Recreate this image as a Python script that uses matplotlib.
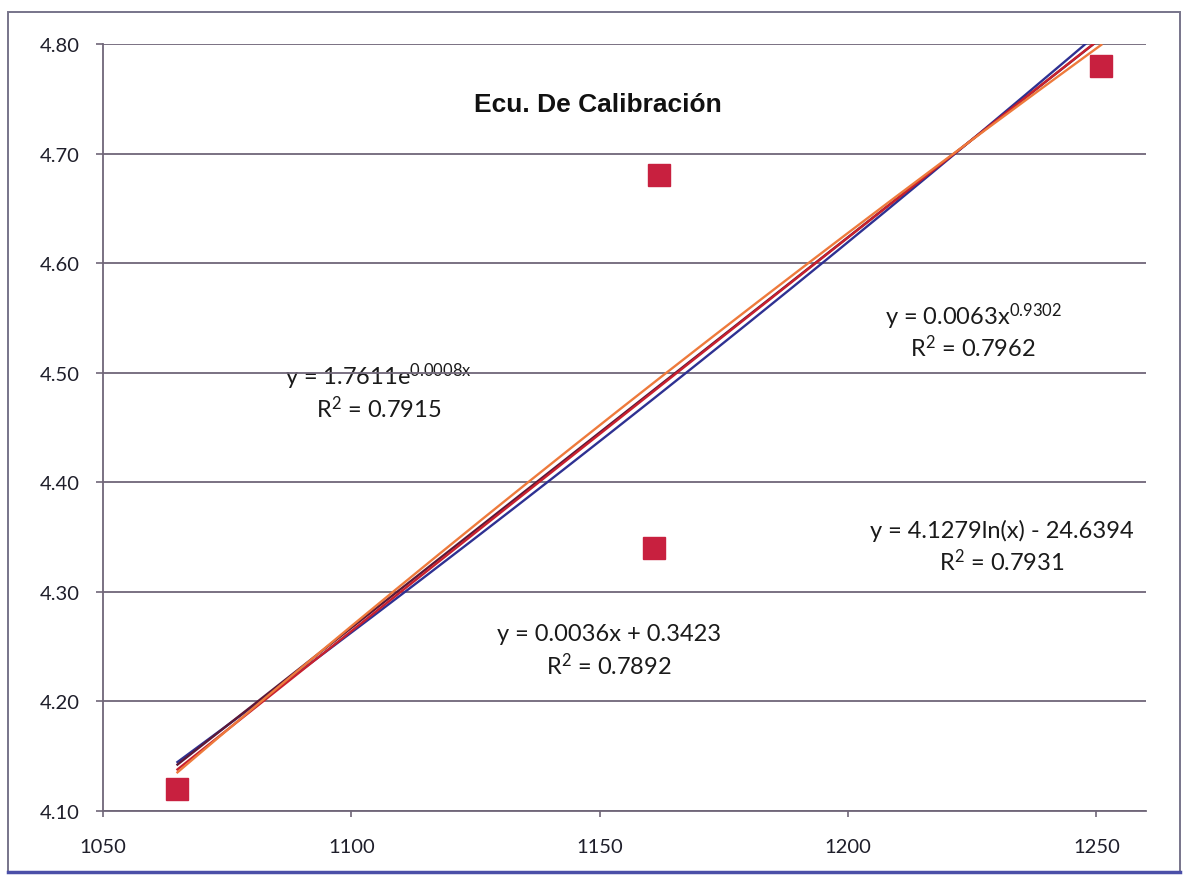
import numpy as np
import matplotlib
matplotlib.use("Agg")
import matplotlib.pyplot as plt
from matplotlib.patches import Rectangle
from matplotlib.lines import Line2D

# Calibration measurements
x_vals = [1065, 1162, 1161, 1251]
y_vals = [4.12, 4.68, 4.34, 4.78]

x_ticks = [1050, 1100, 1150, 1200, 1250]
y_ticks = [4.10, 4.20, 4.30, 4.40, 4.50, 4.60, 4.70, 4.80]

title = "Ecu. De Calibración"
eq_exp = r"y = 1.7611e$^{\mathrm{0.0008x}}$"
r2_exp = r"R$^{\mathrm{2}}$ = 0.7915"
eq_pow = r"y = 0.0063x$^{\mathrm{0.9302}}$"
r2_pow = r"R$^{\mathrm{2}}$ = 0.7962"
eq_log = "y = 4.1279ln(x) - 24.6394"
r2_log = r"R$^{\mathrm{2}}$ = 0.7931"
eq_lin = "y = 0.0036x + 0.3423"
r2_lin = r"R$^{\mathrm{2}}$ = 0.7892"

plt.rcParams["font.family"] = ["Lato", "DejaVu Sans"]
plt.rcParams["mathtext.fontset"] = "custom"
plt.rcParams["mathtext.rm"] = "Lato"
plt.rcParams["mathtext.it"] = "Lato:italic"
plt.rcParams["mathtext.bf"] = "Lato:bold"

x = np.array(x_vals, dtype=float)
y = np.array(y_vals, dtype=float)

# Least-squares trendlines
lin = np.polyfit(x, y, 1)
exp_k, exp_b = np.polyfit(x, np.log(y), 1)
pow_p, pow_b = np.polyfit(np.log(x), np.log(y), 1)
log_a, log_b = np.polyfit(np.log(x), y, 1)

xs = np.linspace(x.min(), x.max(), 400)
trend_exp = np.exp(exp_b) * np.exp(exp_k * xs)
trend_lin = np.polyval(lin, xs)
trend_pow = np.exp(pow_b) * xs ** pow_p
trend_log = log_a * np.log(xs) + log_b

fig = plt.figure(figsize=(11.86, 8.78), dpi=100)
ax = fig.add_axes([0.0868, 0.0757, 0.8795, 0.8730])

grid_c = "#6f6678"
for yt in y_ticks:
    ax.axhline(yt, color=grid_c, lw=1.3, zorder=1)

ax.plot(xs, trend_exp, color="#2e3192", lw=1.7, zorder=3)
ax.plot(xs, trend_lin, color="#5b1838", lw=1.7, zorder=3)
ax.plot(xs, trend_pow, color="#c8202e", lw=1.7, zorder=3)
ax.plot(xs, trend_log, color="#ee7a3c", lw=1.7, zorder=3)

ax.plot(x, y, linestyle="none", marker="s", markersize=15.5,
        markerfacecolor="#c8203f", markeredgecolor="#c8203f", zorder=4)

ax.set_xlim(1050, 1260)
ax.set_ylim(4.10, 4.80)
ax.set_xticks(x_ticks)
ax.set_yticks(y_ticks)
ax.set_yticklabels([f"{v:.2f}" for v in y_ticks])
ax.set_xticklabels([str(v) for v in x_ticks])

for s in ["top", "right"]:
    ax.spines[s].set_visible(False)
for s in ["left", "bottom"]:
    ax.spines[s].set_color(grid_c)
    ax.spines[s].set_linewidth(1.3)

ax.tick_params(axis="y", direction="out", length=5, width=1.2, color=grid_c,
               pad=12, labelsize=14.5, labelcolor="#1e1e2a")
ax.tick_params(axis="x", direction="out", length=4, width=1.2, color=grid_c,
               pad=16, labelsize=14.5, labelcolor="#1e1e2a")

# Chart title
ax.text(1149.6, 4.745, title, ha="center", va="center",
        fontsize=19, fontweight="bold", family="Liberation Sans", color="#111111")

# Trendline equations
eq_style = dict(ha="center", va="center", fontsize=17, color="#1a1a1a", zorder=0.5)
ax.text(1105.5, 4.497, eq_exp, **eq_style)
ax.text(1105.5, 4.468, r2_exp, **eq_style)
ax.text(1225.2, 4.552, eq_pow, **eq_style)
ax.text(1225.2, 4.524, r2_pow, **eq_style)
ax.text(1231.0, 4.356, eq_log, **eq_style)
ax.text(1231.0, 4.328, r2_log, **eq_style)
ax.text(1151.8, 4.262, eq_lin, **eq_style)
ax.text(1151.8, 4.233, r2_lin, **eq_style)

# Outer chart frame
fig.patches.append(Rectangle((8 / 1186, 1 - 873 / 878), 1172 / 1186, 860 / 878,
                             transform=fig.transFigure, fill=False,
                             edgecolor="#77748a", lw=1.4))
fig.lines.append(Line2D([8 / 1186, 1180 / 1186], [1 - 873 / 878, 1 - 873 / 878],
                        transform=fig.transFigure, color="#4b4fa8", lw=2.5))

fig.savefig("out.png", dpi=100)
